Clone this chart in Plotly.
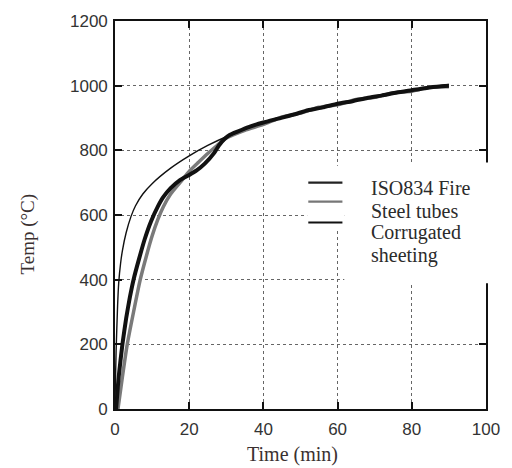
import plotly.graph_objects as go

# ---- data ----
iso_time = [0, 0.3, 0.7, 1, 1.5, 2, 3, 4.3, 5.5, 7.5, 10, 15, 20, 25, 30, 40, 50, 60, 70, 80, 90]
iso_temp = [20, 180, 320, 390, 450, 490, 545, 595, 628, 665, 697, 745, 783, 815, 842, 885, 918, 945, 968, 988, 1004]

tube_time = [0.8, 2, 3.3, 5, 6.8, 8.5, 10, 11.5, 13, 15, 17.5, 20, 22.5, 25, 27.5, 30,
             35, 40, 45, 50, 55, 60, 65, 70, 75, 80, 85, 90]
tube_temp = [0, 100, 200, 300, 400, 475, 535, 585, 625, 665, 700, 735, 763, 790, 815, 838,
             862, 880, 903, 915, 933, 941, 957, 964, 978, 983, 996, 997]

sheet_time = [0.3, 1, 2, 3, 4, 5, 6.5, 8, 9.7, 11.5, 13, 15, 17.5, 20, 22, 24.2, 26.8, 28, 29.5, 31,
              33, 36, 40, 44, 48, 52, 56, 60, 64, 68, 72, 76, 80, 84, 88, 90]
sheet_temp = [0, 100, 200, 280, 345, 400, 465, 525, 580, 625, 655, 683, 708, 724, 738, 759, 793, 815, 835, 848,
              858, 872, 886, 898, 910, 924, 933, 944, 952, 962, 970, 979, 986, 993, 998, 1000]

legend_labels = ["ISO834 Fire", "Steel tubes", "Corrugated", "sheeting"]
x_ticks = [0, 20, 40, 60, 80, 100]
y_ticks = [0, 200, 400, 600, 800, 1000, 1200]

fig = go.Figure()
fig.add_trace(go.Scatter(x=tube_time, y=tube_temp, mode="lines",
                         line=dict(color="#7a7a7a", width=3.5, shape="spline", smoothing=0.5),
                         name="Steel tubes"))
fig.add_trace(go.Scatter(x=sheet_time, y=sheet_temp, mode="lines",
                         line=dict(color="#111111", width=4, shape="spline", smoothing=0.5),
                         name="Corrugated sheeting"))
fig.add_trace(go.Scatter(x=iso_time, y=iso_temp, mode="lines",
                         line=dict(color="#111111", width=1.4, shape="spline", smoothing=0.5),
                         name="ISO834 Fire"))

axis_common = dict(showline=True, linecolor="#111", linewidth=1.6, mirror="ticks",
                   ticks="inside", ticklen=7, tickwidth=1.6, tickcolor="#111",
                   showgrid=True, gridcolor="#666", gridwidth=1, griddash="dot",
                   zeroline=False,
                   tickfont=dict(family="Liberation Sans, Arial", size=17, color="#333"))

fig.update_xaxes(range=[0, 100], tickvals=x_ticks, ticklabelstandoff=4, **axis_common)
fig.update_yaxes(range=[0, 1200], tickvals=y_ticks, ticklabelstandoff=2, **axis_common)

shapes = [
    dict(type="rect", xref="paper", yref="paper", x0=0.518, x1=0.618, y0=0.460, y1=0.627,
         fillcolor="white", line=dict(width=0), layer="above"),
    dict(type="rect", xref="paper", yref="paper", x0=0.618, x1=1.02, y0=0.324, y1=0.635,
         fillcolor="white", line=dict(width=0), layer="above"),
]
leg_colors = ["#222222", "#777777", "#111111"]
leg_y = [0.5835, 0.5347, 0.4807]
for c, yy in zip(leg_colors, leg_y):
    shapes.append(dict(type="line", xref="paper", yref="paper", x0=0.521, x1=0.613, y0=yy, y1=yy,
                       line=dict(color=c, width=2.2), layer="above"))

serif = "Liberation Serif, Times New Roman"
annotations = []
text_y = [0.570, 0.511, 0.455, 0.396]
for t, yy in zip(legend_labels, text_y):
    annotations.append(dict(text=t, xref="paper", yref="paper", x=0.684, y=yy,
                            xanchor="left", yanchor="middle", showarrow=False,
                            font=dict(family=serif, size=20, color="#2b2b2b")))

# axis titles
annotations.append(dict(text="Time (min)", xref="paper", yref="paper", x=0.479, y=-0.118,
                        xanchor="center", yanchor="middle", showarrow=False,
                        font=dict(family=serif, size=20, color="#3a3030")))
annotations.append(dict(text="Temp (°C)", xref="paper", yref="paper", x=-0.234, y=0.450,
                        xanchor="center", yanchor="middle", showarrow=False, textangle=-90,
                        font=dict(family=serif, size=19, color="#3a3030")))

fig.update_layout(width=512, height=468, margin=dict(l=115, r=17, t=20, b=59),
                  paper_bgcolor="white", plot_bgcolor="white", showlegend=False,
                  shapes=shapes, annotations=annotations)

fig.write_html("out.html")
